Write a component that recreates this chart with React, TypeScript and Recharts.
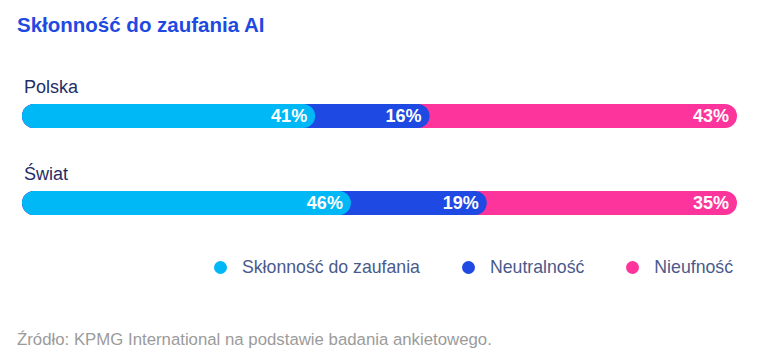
import { BarChart, Bar, XAxis, YAxis, LabelList } from 'recharts';

const categories = ['Polska', 'Świat'];
const trust = [41, 46];
const neutral = [16, 19];
const distrust = [43, 35];

const seriesNames = ['Skłonność do zaufania', 'Neutralność', 'Nieufność'];
const colors = ['#00B8F5', '#1E49E2', '#FD349C'];

const FONT = '"Liberation Sans", Arial, sans-serif';

// bars are drawn overlapping from zero so each rounded end sits on the next segment
const data = categories.map((name, i) => ({
  name,
  trust: trust[i],
  neutral: neutral[i],
  distrust: distrust[i],
  c1: trust[i],
  c2: trust[i] + neutral[i],
  c3: trust[i] + neutral[i] + distrust[i],
}));

interface CatLabelProps {
  x?: number | string;
  y?: number | string;
  value?: string | number;
}

const CategoryLabel = ({ x, y, value }: CatLabelProps) => {
  if (x === undefined || y === undefined) return null;
  return (
    <text x={Number(x) + 2} y={Number(y) - 11} fill="#1F2D66" fontSize={18} fontFamily={FONT}>
      {value}
    </text>
  );
};

const pct = (v: unknown) => `${v}%`;

export default function App() {
  return (
    <div style={{ position: 'absolute', left: 0, top: 0, width: 760, height: 356, background: '#fff', fontFamily: FONT }}>
      <div style={{ position: 'absolute', left: 17, top: 13, fontSize: 20.5, fontWeight: 700, color: '#1E49E2' }}>
        Skłonność do zaufania AI
      </div>

      <div style={{ position: 'absolute', left: 0, top: 0 }}>
        <BarChart
          layout="vertical"
          width={760}
          height={250}
          data={data}
          margin={{ top: 72, right: 23, bottom: 4, left: 22 }}
          barSize={24}
          barGap={-24}
        >
          <XAxis type="number" domain={[0, 100]} hide />
          <YAxis type="category" dataKey="name" hide />
          <Bar dataKey="c3" fill={colors[2]} radius={[12, 12, 12, 12]} isAnimationActive={false}>
            <LabelList dataKey="name" content={<CategoryLabel />} />
            <LabelList dataKey="distrust" position="insideRight" offset={8} formatter={pct} fill="#fff" fontSize={18} fontWeight={700} fontFamily={FONT} />
          </Bar>
          <Bar dataKey="c2" fill={colors[1]} radius={[12, 12, 12, 12]} isAnimationActive={false}>
            <LabelList dataKey="neutral" position="insideRight" offset={8} formatter={pct} fill="#fff" fontSize={18} fontWeight={700} fontFamily={FONT} />
          </Bar>
          <Bar dataKey="c1" fill={colors[0]} radius={[12, 12, 12, 12]} isAnimationActive={false}>
            <LabelList dataKey="trust" position="insideRight" offset={8} formatter={pct} fill="#fff" fontSize={18} fontWeight={700} fontFamily={FONT} />
          </Bar>
        </BarChart>
      </div>

      <div style={{ position: 'absolute', right: 27, top: 257, display: 'flex', alignItems: 'center', fontSize: 17.7, color: '#4A5A8C' }}>
        {seriesNames.map((s, i) => (
          <div key={s} style={{ display: 'flex', alignItems: 'center', marginLeft: i === 0 ? 0 : 42 }}>
            <span style={{ width: 13, height: 13, borderRadius: '50%', background: colors[i], display: 'inline-block', marginRight: 15 }} />
            <span>{s}</span>
          </div>
        ))}
      </div>

      <div style={{ position: 'absolute', left: 17, top: 330, fontSize: 16.8, color: '#9B9B9B' }}>
        Źródło: KPMG International na podstawie badania ankietowego.
      </div>
    </div>
  );
}
